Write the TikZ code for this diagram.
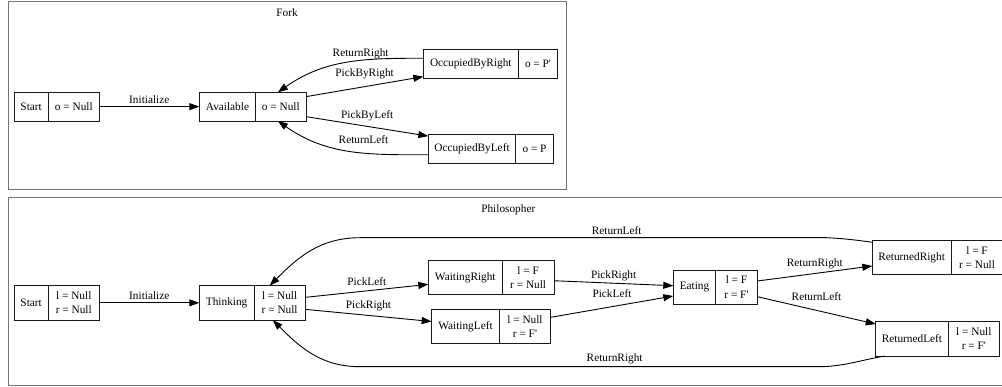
\documentclass[tikz,border=0pt]{standalone}
\usepackage{fontspec}
\setmainfont{Liberation Serif}[Ligatures=TeXOff]
\usetikzlibrary{positioning,arrows.meta}

\tikzset{
  cell/.style={draw=black!90, line width=0.9pt, inner sep=0pt, outer sep=0pt,
    anchor=north west, align=center, font=\fontsize{11.3}{14.3}\selectfont},
  cluster/.style={draw=black!55, line width=1pt},
  arr/.style={-{Triangle[length=10pt,width=7pt]}, line width=0.9pt, draw=black},
  lbl/.style={font=\fontsize{11.3}{13}\selectfont, inner sep=1pt, text height=8pt, text depth=2.5pt},
}

\begin{document}
\begin{tikzpicture}[x=1pt,y=-1pt]
\useasboundingbox (0,0) rectangle (1002,387);

% clusters
\draw[cluster] (8,2) rectangle (566,190);
\draw[cluster] (8,198) rectangle (1009,385.5);
\node[lbl] (forklbl) at (287,13.8) {Fork};
\node[lbl] (phillbl) at (508.3,209.3) {Philosopher};

% Fork states
\node[cell, minimum width=34.3pt, minimum height=28.7pt] (fstart) at (14,92.3) {Start};
\node[cell, minimum width=51pt, minimum height=28.7pt, right=0pt of fstart] (fstartv) {o = Null};
\node[cell, minimum width=56.4pt, minimum height=28.7pt] (favail) at (199.3,92.3) {Available};
\node[cell, minimum width=50.3pt, minimum height=28.7pt, right=0pt of favail] (favailv) {o = Null};
\node[cell, minimum width=95pt, minimum height=29.3pt] (foccr) at (423.3,49) {OccupiedByRight};
\node[cell, minimum width=39.4pt, minimum height=29.3pt, right=0pt of foccr] (foccrv) {o = P'};
\node[cell, minimum width=87.4pt, minimum height=29pt] (foccl) at (428.3,134.3) {OccupiedByLeft};
\node[cell, minimum width=37.6pt, minimum height=29pt, right=0pt of foccl] (focclv) {o = P};

% Fork transitions
\draw[arr] (fstartv.east) -- node[lbl, above=-0.5pt] (fl1) {Initialize} (favail.west);
\draw[arr] ([yshift=10pt]favailv.east) -- node[lbl, above=6pt] (fl2) {PickByRight} ([yshift=-13pt]foccr.west);
\draw[arr] ([yshift=5.4pt]foccr.west) to[out=180,in=35] node[lbl, pos=0.4, above=0pt] (fl3) {ReturnRight} ([xshift=-3pt]favailv.north);
\draw[arr] ([yshift=-10pt]favailv.east) -- node[lbl, above=4pt] (fl4) {PickByLeft} ([yshift=12.7pt]foccl.west);
\draw[arr] ([yshift=-6pt]foccl.west) to[out=180,in=-35] node[lbl, pos=0.4, above=5pt] (fl5) {ReturnLeft} ([xshift=-3pt]favailv.south);

% Philosopher states
\node[cell, minimum width=34.3pt, minimum height=34.3pt] (pstart) at (14,285.7) {Start};
\node[cell, minimum width=51pt, minimum height=34.3pt, right=0pt of pstart] (pstartv) {l = Null\\r = Null};
\node[cell, minimum width=54.7pt, minimum height=34.3pt] (pthink) at (199.3,285.7) {Thinking};
\node[cell, minimum width=51.3pt, minimum height=34.3pt, right=0pt of pthink] (pthinkv) {l = Null\\r = Null};
\node[cell, minimum width=74pt, minimum height=33.3pt] (pwr) at (428.3,260.7) {WaitingRight};
\node[cell, minimum width=51.7pt, minimum height=33.3pt, right=0pt of pwr] (pwrv) {l = F\\r = Null};
\node[cell, minimum width=67.6pt, minimum height=34pt] (pwl) at (431.7,309.3) {WaitingLeft};
\node[cell, minimum width=51.4pt, minimum height=34pt, right=0pt of pwl] (pwlv) {l = Null\\r = F'};
\node[cell, minimum width=42.4pt, minimum height=34pt] (peat) at (673.3,270) {Eating};
\node[cell, minimum width=41.6pt, minimum height=34pt, right=0pt of peat] (peatv) {l = F\\r = F'};
\node[cell, minimum width=78.7pt, minimum height=33.6pt] (prr) at (872.3,240.7) {ReturnedRight};
\node[cell, minimum width=52pt, minimum height=33.6pt, right=0pt of prr] (prrv) {l = F\\r = Null};
\node[cell, minimum width=72.6pt, minimum height=34.3pt] (prl) at (875.7,321.7) {ReturnedLeft};
\node[cell, minimum width=51pt, minimum height=34.3pt, right=0pt of prl] (prlv) {l = Null\\r = F'};

% route points of the long returns
\coordinate (rlA) at (826.7,237.7);
\coordinate (rlB) at (360,237.7);
\coordinate (rrA) at (823,366.7);
\coordinate (rrB) at (360,366.7);

% Philosopher transitions
\draw[arr] (pstartv.east) -- node[lbl, above=-0.5pt] (pl1) {Initialize} (pthink.west);
\draw[arr] ([yshift=5.5pt]pthinkv.east) -- node[lbl, above=1.5pt] (pl2) {PickLeft} ([yshift=-7pt]pwr.west);
\draw[arr] ([yshift=-6.5pt]pthinkv.east) -- node[lbl, above=2.8pt] (pl3) {PickRight} ([yshift=4.8pt]pwl.west);
\draw[arr] ([yshift=-3.4pt]pwrv.east) -- node[lbl, above=1.1pt] (pl4) {PickRight} ([yshift=1.3pt]peat.west);
\draw[arr] ([yshift=9pt]pwlv.east) -- node[lbl, above=4.8pt] (pl5) {PickLeft} ([yshift=-9pt]peat.west);
\draw[arr] ([yshift=6pt]peatv.east) -- node[lbl, above=3.1pt] (pl6) {ReturnRight} ([yshift=-8.5pt]prr.west);
\draw[arr] ([yshift=-9.7pt]peatv.east) -- node[lbl, above=5.8pt] (pl7) {ReturnLeft} ([yshift=14.8pt]prl.west);
\draw[arr] ([yshift=-1.6pt]prr.north west) to[out=172,in=-3] (rlA)
  -- node[lbl, pos=0.45, above=-0.5pt] (pl8) {ReturnLeft} (rlB)
  to[out=180,in=45] ([xshift=-10pt]pthinkv.north);
\draw[arr] ([xshift=9pt]prl.south west) to[out=190,in=3] (rrA)
  -- node[lbl, pos=0.45, above=1.2pt] (pl9) {ReturnRight} (rrB)
  to[out=180,in=-45] ([xshift=-7pt]pthinkv.south);
\end{tikzpicture}
\end{document}
